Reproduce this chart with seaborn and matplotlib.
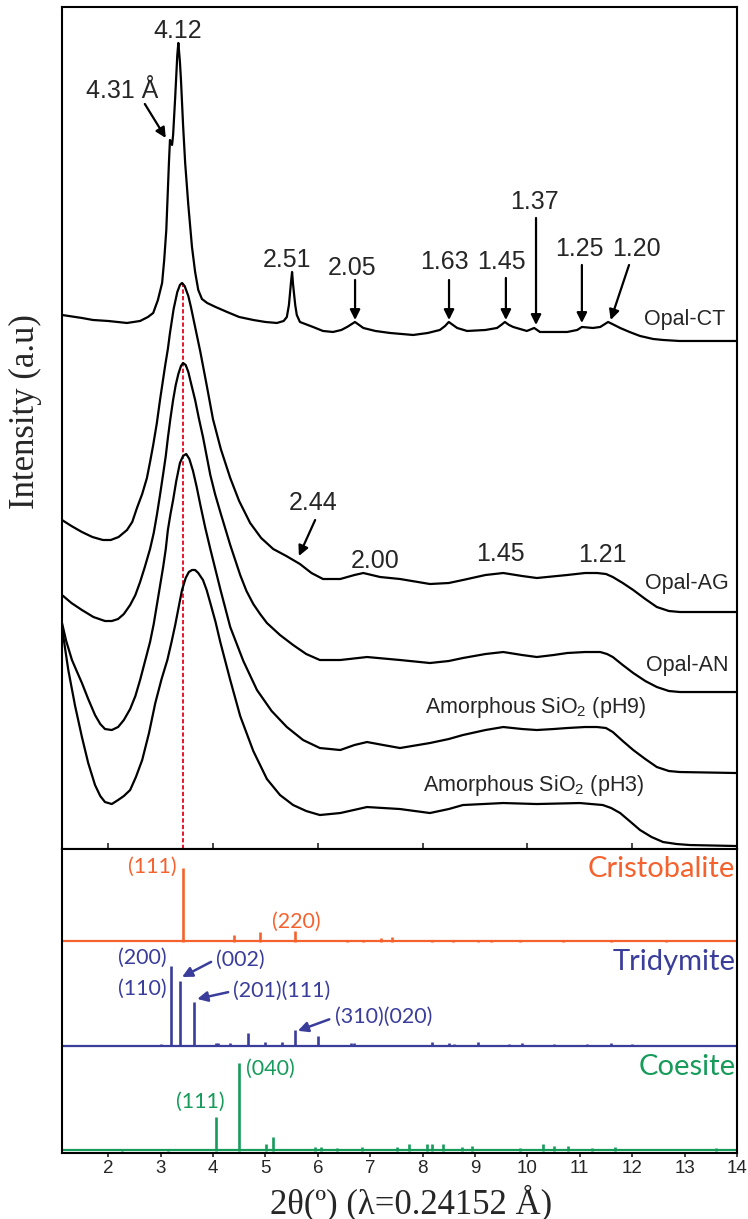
import numpy as np
import pandas as pd
import matplotlib
matplotlib.use("Agg")
import matplotlib.pyplot as plt
import seaborn as sns

# ---------------- data ----------------
# upper panel: stacked diffraction curves (2theta in deg, stacked intensity in a.u.)
opal_ct_x = [1.12, 1.50, 1.71, 2.00, 2.36, 2.61, 2.76, 2.86, 2.95, 3.03, 3.07, 3.11, 3.14, 3.16,
             3.18, 3.22, 3.24, 3.28, 3.32, 3.34, 3.37, 3.39, 3.43, 3.47, 3.53, 3.60, 3.66, 3.72,
             3.79, 3.89, 4.05, 4.27, 4.50, 4.77, 5.00, 5.22, 5.35, 5.41, 5.45, 5.49, 5.51, 5.53,
             5.57, 5.60, 5.66, 5.91, 6.10, 6.29, 6.45, 6.56, 6.71, 6.87, 7.10, 7.38, 7.82, 8.10,
             8.33, 8.43, 8.50, 8.58, 8.66, 8.85, 9.20, 9.42, 9.50, 9.57, 9.65, 9.73, 9.99, 10.13,
             10.24, 10.50, 10.76, 10.95, 11.04, 11.25, 11.39, 11.48, 11.54, 11.62, 11.77, 11.95,
             12.15, 12.40, 12.59, 12.90, 13.24, 14.00]
opal_ct_y = [5.34, 5.31, 5.29, 5.28, 5.26, 5.28, 5.32, 5.36, 5.49, 5.66, 5.89, 6.19, 6.59, 6.86,
             7.09, 7.04, 7.14, 7.52, 7.94, 8.06, 7.87, 7.69, 7.24, 6.86, 6.44, 6.02, 5.77, 5.59,
             5.50, 5.46, 5.42, 5.37, 5.32, 5.29, 5.27, 5.26, 5.28, 5.32, 5.44, 5.67, 5.77, 5.64,
             5.44, 5.34, 5.27, 5.22, 5.18, 5.17, 5.19, 5.22, 5.27, 5.21, 5.18, 5.16, 5.14, 5.16,
             5.19, 5.23, 5.27, 5.24, 5.21, 5.18, 5.19, 5.21, 5.24, 5.27, 5.24, 5.22, 5.18, 5.21,
             5.17, 5.17, 5.17, 5.19, 5.22, 5.21, 5.22, 5.25, 5.27, 5.25, 5.21, 5.17,
             5.13, 5.10, 5.09, 5.08, 5.08, 5.08]

opal_ag_x = [1.12, 1.30, 1.50, 1.70, 1.90, 2.05, 2.20, 2.36, 2.46, 2.55, 2.65, 2.74, 2.80, 2.86,
             2.93, 2.99, 3.05, 3.09, 3.14, 3.18, 3.25, 3.32, 3.37, 3.41, 3.46, 3.53, 3.58, 3.64,
             3.70, 3.76, 3.88, 4.00, 4.15, 4.33, 4.50, 4.71, 4.92, 5.15, 5.40, 5.66, 5.88, 6.10,
             6.43, 6.70, 6.87, 7.19, 7.57, 8.14, 8.50, 8.77, 9.20, 9.54, 9.90, 10.18, 10.76, 11.10,
             11.33, 11.50, 11.63, 11.82, 12.02, 12.25, 12.47, 12.70, 12.91, 14.00]
opal_ag_y = [3.29, 3.23, 3.17, 3.12, 3.09, 3.09, 3.12, 3.19, 3.27, 3.41, 3.55, 3.71, 3.87, 4.04,
             4.26, 4.49, 4.70, 4.84, 5.00, 5.16, 5.40, 5.57, 5.64, 5.66, 5.63, 5.53, 5.42, 5.27,
             5.12, 4.97, 4.64, 4.30, 4.00, 3.71, 3.48, 3.26, 3.11, 3.00, 2.93, 2.85, 2.76, 2.70,
             2.70, 2.74, 2.76, 2.72, 2.70, 2.65, 2.66, 2.69, 2.74, 2.76, 2.73, 2.71, 2.74, 2.76,
             2.76, 2.75, 2.72, 2.66, 2.59, 2.50, 2.42, 2.38, 2.37, 2.37]

opal_an_x = [1.12, 1.30, 1.50, 1.72, 1.94, 2.07, 2.19, 2.30, 2.42, 2.52, 2.61, 2.70, 2.80, 2.87,
             2.93, 2.99, 3.05, 3.10, 3.14, 3.19, 3.24, 3.29, 3.34, 3.39, 3.43, 3.48, 3.53, 3.59,
             3.66, 3.73, 3.81, 3.88, 3.95, 4.04, 4.14, 4.33, 4.52, 4.64, 4.77, 4.90, 5.03, 5.28,
             5.53, 5.78, 6.04, 6.43, 6.94, 7.57, 8.14, 8.50, 8.77, 9.20, 9.54, 9.90, 10.18, 10.50,
             10.76, 11.10, 11.39, 11.52, 11.63, 11.82, 12.02, 12.25, 12.47, 12.70, 12.91, 14.00]
opal_an_y = [2.54, 2.46, 2.39, 2.32, 2.28, 2.28, 2.30, 2.35, 2.44, 2.54, 2.67, 2.82, 3.00, 3.16,
             3.34, 3.54, 3.75, 3.93, 4.11, 4.31, 4.49, 4.64, 4.75, 4.83, 4.86, 4.84, 4.77, 4.64,
             4.49, 4.31, 4.12, 3.93, 3.74, 3.55, 3.37, 3.04, 2.74, 2.58, 2.45, 2.35, 2.26, 2.14,
             2.04, 1.95, 1.89, 1.89, 1.92, 1.89, 1.86, 1.88, 1.91, 1.95, 1.97, 1.94, 1.92, 1.94,
             1.96, 1.97, 1.97, 1.95, 1.92, 1.84, 1.76, 1.68, 1.62, 1.58, 1.57, 1.57]

sio2_ph9_x = [1.12, 1.20, 1.31, 1.40, 1.50, 1.62, 1.75, 1.85, 1.94, 2.07, 2.19, 2.30, 2.42, 2.52,
              2.61, 2.70, 2.80, 2.87, 2.93, 2.99, 3.05, 3.10, 3.14, 3.19, 3.24, 3.30, 3.37, 3.43,
              3.49, 3.55, 3.62, 3.69, 3.76, 3.85, 3.95, 4.14, 4.33, 4.58, 4.84, 5.12, 5.41, 5.72,
              6.04, 6.43, 6.70, 6.94, 7.25, 7.57, 8.14, 8.50, 8.77, 9.20, 9.54, 9.90, 10.18, 10.50,
              10.76, 11.10, 11.33, 11.50, 11.63, 11.82, 12.02, 12.25, 12.47, 12.70, 12.91, 14.00]
sio2_ph9_y = [2.26, 2.08, 1.89, 1.78, 1.66, 1.50, 1.34, 1.25, 1.20, 1.19, 1.22, 1.29, 1.40, 1.53,
              1.69, 1.87, 2.07, 2.25, 2.44, 2.63, 2.82, 3.00, 3.19, 3.35, 3.49, 3.68, 3.86, 3.93,
              3.95, 3.90, 3.78, 3.62, 3.44, 3.22, 3.00, 2.60, 2.22, 1.88, 1.59, 1.38, 1.22, 1.09,
              1.01, 0.99, 1.04, 1.07, 1.04, 1.01, 1.06, 1.10, 1.14, 1.19, 1.22, 1.20, 1.19, 1.20,
              1.21, 1.22, 1.22, 1.21, 1.17, 1.08, 0.99, 0.90, 0.82, 0.78, 0.77, 0.76]

sio2_ph3_x = [1.12, 1.18, 1.24, 1.37, 1.50, 1.62, 1.75, 1.85, 1.94, 2.07, 2.19, 2.30, 2.42, 2.53,
              2.65, 2.78, 2.90, 3.02, 3.13, 3.21, 3.28, 3.35, 3.41, 3.48, 3.54, 3.60, 3.66, 3.72,
              3.81, 3.88, 3.95, 4.05, 4.14, 4.33, 4.52, 4.77, 5.03, 5.28, 5.53, 5.78, 6.04, 6.43,
              6.94, 7.57, 8.14, 8.50, 8.77, 9.54, 10.18, 11.00, 11.44, 11.60, 11.77, 11.95, 12.15,
              12.37, 12.59, 12.85, 13.10, 14.00]
sio2_ph3_y = [2.22, 2.00, 1.79, 1.43, 1.12, 0.86, 0.64, 0.53, 0.47, 0.45, 0.49, 0.53, 0.59, 0.72,
              0.89, 1.16, 1.46, 1.70, 1.89, 2.07, 2.24, 2.43, 2.59, 2.71, 2.77, 2.79, 2.79, 2.76,
              2.69, 2.59, 2.46, 2.27, 2.07, 1.69, 1.33, 0.98, 0.70, 0.54, 0.44, 0.38, 0.34, 0.36,
              0.42, 0.40, 0.36, 0.40, 0.44, 0.46, 0.45, 0.46, 0.44, 0.41, 0.36, 0.28, 0.19,
              0.12, 0.07, 0.05, 0.04, 0.03]

sample_names = ["Opal-CT", "Opal-AG", "Opal-AN", "SiO2 pH9", "SiO2 pH3"]

# lower panel: reference stick patterns (2theta, relative height)
cristobalite_pos = [3.43, 4.41, 4.89, 5.57, 6.55, 6.86, 7.20, 7.41, 8.18, 8.59, 9.05, 9.30,
                    9.86, 10.68, 11.59, 12.64]
cristobalite_int = [0.71, 0.065, 0.095, 0.105, 0.012, 0.02, 0.035, 0.05, 0.012, 0.02, 0.015,
                    0.01, 0.01, 0.015, 0.01, 0.01]
tridymite_pos = [3.00, 3.20, 3.38, 3.63, 4.05, 4.10, 4.32, 4.66, 5.00, 5.32, 5.56, 6.00, 6.64,
                 6.70, 8.18, 8.50, 8.60, 9.05, 9.64, 9.90, 10.50, 11.14, 11.59, 12.00]
tridymite_int = [0.02, 0.775, 0.63, 0.43, 0.03, 0.03, 0.03, 0.13, 0.04, 0.04, 0.16, 0.10, 0.03,
                 0.03, 0.04, 0.03, 0.02, 0.04, 0.02, 0.03, 0.02, 0.02, 0.03, 0.02]
coesite_pos = [2.27, 3.15, 4.05, 4.49, 5.02, 5.14, 5.95, 6.06, 6.36, 6.84, 7.52, 7.75, 8.09,
               8.18, 8.39, 8.75, 8.95, 9.86, 10.30, 10.50, 10.77, 11.23, 11.68, 13.60]
coesite_int = [0.02, 0.02, 0.325, 0.84, 0.07, 0.13, 0.04, 0.04, 0.03, 0.04, 0.04, 0.07, 0.07,
               0.07, 0.07, 0.04, 0.05, 0.03, 0.07, 0.05, 0.05, 0.03, 0.04, 0.03]
phase_names = ["Cristobalite", "Tridymite", "Coesite"]

# d-spacing labels
ct_labels = ["2.51", "2.05", "1.63", "1.45", "1.37", "1.25", "1.20"]
ag_labels = ["2.44", "2.00", "1.45", "1.21"]

# ---------------- style ----------------
sns.set_theme(style="white")
plt.rcParams["font.family"] = ["Liberation Sans", "DejaVu Sans"]
plt.rcParams["mathtext.fontset"] = "custom"
plt.rcParams["mathtext.rm"] = "Liberation Sans"
plt.rcParams["mathtext.it"] = "Liberation Sans:italic"
plt.rcParams["axes.linewidth"] = 1.5
plt.rcParams["axes.edgecolor"] = "black"

C_CRIS = "#F5622E"
C_TRID = "#3A3D9A"
C_COES = "#179B5B"
C_RED = "#E8152F"

XMIN, XMAX = 1.12, 14.0

fig = plt.figure(figsize=(7.48, 12.19), dpi=100)
ax1 = fig.add_axes([0.0829, 0.3035, 0.9024, 0.6908])
ax2 = fig.add_axes([0.0829, 0.0541, 0.9024, 0.2494])

# ---------------- upper panel ----------------
curves = [(opal_ct_x, opal_ct_y), (opal_ag_x, opal_ag_y), (opal_an_x, opal_an_y),
          (sio2_ph9_x, sio2_ph9_y), (sio2_ph3_x, sio2_ph3_y)]
df = pd.concat([pd.DataFrame({"two_theta": cx, "intensity": cy, "sample": name})
                for (cx, cy), name in zip(curves, sample_names)], ignore_index=True)

ax1.vlines(cristobalite_pos[0] - 0.01, 0, max(opal_ag_y), colors=C_RED, linestyles=(0, (2.2, 1.2)),
           lw=1.4, zorder=1)
sns.lineplot(data=df, x="two_theta", y="intensity", units="sample", estimator=None,
             sort=False, color="black", lw=1.6, ax=ax1, legend=False, zorder=2)
for line in ax1.get_lines():
    line.set_solid_joinstyle("round")

ax1.set_xlim(XMIN, XMAX)
ax1.set_ylim(0, 8.42)
ax1.set_xticks(range(2, 15, 2))
ax1.tick_params(axis="x", direction="in", length=4, width=1.2, labelbottom=False, bottom=True)
ax1.set_yticks([])
ax1.set_xlabel("")
ax1.set_ylabel("")

NUM = 18
LAB = 15.5
arrow_k = dict(arrowstyle="-|>", color="black", lw=1.6, mutation_scale=15, shrinkA=0, shrinkB=0)

ax1.text(3.335, 8.18, "4.12", fontsize=NUM, ha="center", va="center")
ax1.text(2.27, 7.58, "4.31 Å", fontsize=NUM, ha="center", va="center")
ax1.annotate("", xy=(3.10, 7.11), xytext=(2.70, 7.45), arrowprops=arrow_k)

ct_text_xy = [(5.415, 5.89), (6.655, 5.81), (8.41, 5.87), (9.50, 5.87), (10.13, 6.47),
              (10.985, 6.00), (12.09, 6.00)]
ct_arrows = [None, ((6.712, 5.69), (6.712, 5.29)), ((8.505, 5.69), (8.505, 5.29)),
             ((9.59, 5.71), (9.59, 5.29)), ((10.165, 6.31), (10.165, 5.24)),
             ((11.04, 5.84), (11.04, 5.26)), ((11.94, 5.84), (11.59, 5.29))]
for lab, (tx, ty), arr in zip(ct_labels, ct_text_xy, ct_arrows):
    ax1.text(tx, ty, lab, fontsize=NUM, ha="center", va="center")
    if arr is not None:
        ax1.annotate("", xy=arr[1], xytext=arr[0], arrowprops=arrow_k)

ag_text_xy = [(5.91, 3.46), (7.09, 2.88), (9.48, 2.95), (11.44, 2.94)]
for lab, (tx, ty) in zip(ag_labels, ag_text_xy):
    ax1.text(tx, ty, lab, fontsize=NUM, ha="center", va="center")
ax1.annotate("", xy=(5.64, 2.93), xytext=(5.95, 3.29), arrowprops=arrow_k)

ax1.text(13.0, 5.29, "Opal-CT", fontsize=LAB, ha="center", va="center")
ax1.text(13.05, 2.66, "Opal-AG", fontsize=LAB, ha="center", va="center")
ax1.text(13.05, 1.84, "Opal-AN", fontsize=LAB, ha="center", va="center")
ax1.text(10.15, 1.42, "Amorphous SiO$_2$ (pH9)", fontsize=LAB, ha="center", va="center")
ax1.text(10.11, 0.64, "Amorphous SiO$_2$ (pH3)", fontsize=LAB, ha="center", va="center")

# ---------------- lower panel ----------------
patterns = [(cristobalite_pos, cristobalite_int, C_CRIS, 2.0),
            (tridymite_pos, tridymite_int, C_TRID, 1.0),
            (coesite_pos, coesite_int, C_COES, 0.0)]
for pos, inten, col, off in patterns:
    ax2.vlines(pos, off, np.asarray(inten) + off, colors=col, lw=1.9)
    ax2.hlines(off + 0.005, XMIN, XMAX, colors=col, lw=1.6)

ax2.set_xlim(XMIN, XMAX)
ax2.set_ylim(-0.02, 2.89)
ax2.set_yticks([])
ax2.set_xticks(range(2, 15))
ax2.tick_params(axis="x", direction="out", length=3, width=1.2, pad=2, labelsize=13.5,
                bottom=True)

PH = ["Lato", "DejaVu Sans"]
ax2.text(13.97, 2.70, phase_names[0], fontsize=21, color=C_CRIS, ha="right", va="center", family=PH)
ax2.text(13.97, 1.81, phase_names[1], fontsize=21, color=C_TRID, ha="right", va="center", family=PH)
ax2.text(13.97, 0.80, phase_names[2], fontsize=21, color=C_COES, ha="right", va="center", family=PH)

MI = 15.5
ax2.text(3.31, 2.72, "(111)", fontsize=MI, color=C_CRIS, ha="right", va="center", family=PH)
ax2.text(5.59, 2.19, "(220)", fontsize=MI, color=C_CRIS, ha="center", va="center", family=PH)

ax2.text(2.65, 1.85, "(200)", fontsize=MI, color=C_TRID, ha="center", va="center", family=PH)
ax2.text(2.65, 1.55, "(110)", fontsize=MI, color=C_TRID, ha="center", va="center", family=PH)
ax2.text(4.52, 1.83, "(002)", fontsize=MI, color=C_TRID, ha="center", va="center", family=PH)
ax2.text(5.32, 1.53, "(201)(111)", fontsize=MI, color=C_TRID, ha="center", va="center", family=PH)
ax2.text(7.25, 1.28, "(310)(020)", fontsize=MI, color=C_TRID, ha="center", va="center", family=PH)
arrow_b = dict(arrowstyle="-|>", color=C_TRID, lw=1.8, mutation_scale=15, shrinkA=0, shrinkB=0)
ax2.annotate("", xy=(3.41, 1.665), xytext=(3.965, 1.81), arrowprops=arrow_b)
ax2.annotate("", xy=(3.70, 1.455), xytext=(4.29, 1.52), arrowprops=arrow_b)
ax2.annotate("", xy=(5.62, 1.15), xytext=(6.22, 1.26), arrowprops=arrow_b)

ax2.text(5.09, 0.785, "(040)", fontsize=MI, color=C_COES, ha="center", va="center", family=PH)
ax2.text(3.755, 0.47, "(111)", fontsize=MI, color=C_COES, ha="center", va="center", family=PH)

# ---------------- axis titles ----------------
SERIF = ["Liberation Serif", "DejaVu Serif"]
fig.text(25 / 748, 1 - 412 / 1219, "Intensity (a.u)", rotation=90, ha="center", va="center",
         fontsize=25, family=SERIF)
fig.text(411 / 748, 1 - 1203 / 1219, "2θ(º) (λ=0.24152 Å)", ha="center", va="center",
         fontsize=25, family=SERIF)

fig.savefig("out.png", dpi=100)
